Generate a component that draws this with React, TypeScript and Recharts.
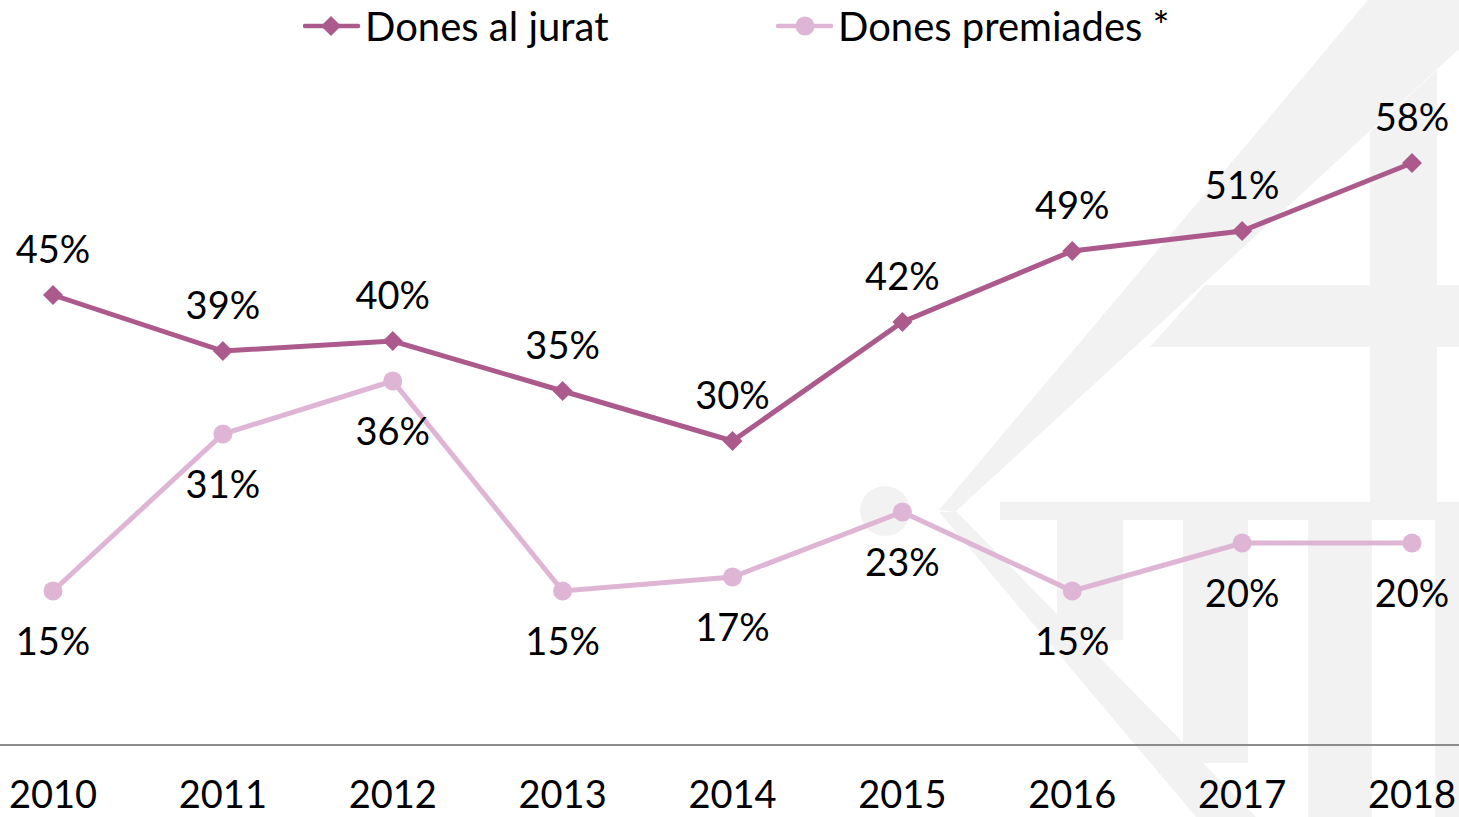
import React from 'react';
import { LineChart, Line, XAxis, YAxis, Legend, LabelList } from 'recharts';

const years = ['2010', '2011', '2012', '2013', '2014', '2015', '2016', '2017', '2018'];
const donesJurat = [45.0, 39.4, 40.4, 35.4, 30.4, 42.3, 49.4, 51.4, 58.2];
const donesPremiades = [15.4, 31.1, 36.4, 15.4, 16.8, 23.3, 15.4, 20.2, 20.2];

const seriesNames = ['Dones al jurat', 'Dones premiades *'];
const C1 = '#AC5A8C';
const C2 = '#DFB5D5';
const WM = '#F2F2F2';
const FONT = 'Lato, "Open Sans", sans-serif';
const FS = 38;

const data = years.map((y, i) => ({ year: y, jurat: donesJurat[i], premiades: donesPremiades[i] }));

const fmt = (v: number) => `${Math.round(v)}%`;

const Diamond = (props: any) => {
  const { cx, cy } = props;
  if (cx == null || cy == null) return null;
  const s = 10;
  return <polygon key={`d-${cx}`} points={`${cx},${cy - s} ${cx + s},${cy} ${cx},${cy + s} ${cx - s},${cy}`} fill={C1} />;
};

const Circle = (props: any) => {
  const { cx, cy } = props;
  if (cx == null || cy == null) return null;
  return <circle key={`c-${cx}`} cx={cx} cy={cy} r={9.5} fill={C2} />;
};

const TopLabel = (props: any) => {
  const { x, y, value } = props;
  return (
    <text x={x} y={y - 47} textAnchor="middle" dominantBaseline="central" fill="#000" fontSize={FS} fontFamily={FONT}>
      {fmt(value)}
    </text>
  );
};

const BottomLabel = (props: any) => {
  const { x, y, value } = props;
  return (
    <text x={x} y={y + 49} textAnchor="middle" dominantBaseline="central" fill="#000" fontSize={FS} fontFamily={FONT}>
      {fmt(value)}
    </text>
  );
};

const LegendContent = () => (
  <div style={{ position: 'relative', height: 45, width: 1459, fontFamily: FONT, fontSize: 40, color: '#000' }}>
    <svg width={60} height={24} style={{ position: 'absolute', left: 303, top: 14 }}>
      <line x1={2} y1={12} x2={55} y2={12} stroke={C1} strokeWidth={4.5} strokeLinecap="round" />
      <polygon points="28,2 38,12 28,22 18,12" fill={C1} />
    </svg>
    <span style={{ position: 'absolute', left: 365, top: 0, lineHeight: '52px', whiteSpace: 'nowrap' }}>{seriesNames[0]}</span>
    <svg width={60} height={24} style={{ position: 'absolute', left: 776, top: 14 }}>
      <line x1={2} y1={12} x2={55} y2={12} stroke={C2} strokeWidth={4.5} strokeLinecap="round" />
      <circle cx={29} cy={12} r={9.5} fill={C2} />
    </svg>
    <span style={{ position: 'absolute', left: 838, top: 0, lineHeight: '52px', whiteSpace: 'nowrap' }}>{seriesNames[1]}</span>
  </div>
);

const Watermark = () => (
  <svg width={1459} height={817} style={{ position: 'absolute', left: 0, top: 0 }}>
    <circle cx={885} cy={511} r={25} fill={WM} />
    <polygon points="939,510 1368,0 1459,0 1459,49 955,512" fill={WM} />
    <polygon points="939,512 957,512 1256,817 1196,817" fill={WM} />
    <polygon points="1205,285 1459,285 1459,347 1150,347" fill={WM} />
    <polygon points="1370,132 1437,70 1437,502 1370,502" fill={WM} />
    <rect x={1000} y={502} width={459} height={18} fill={WM} />
    <rect x={1057} y={520} width={66} height={120} fill={WM} />
    <rect x={1183} y={520} width={65} height={243} fill={WM} />
    <rect x={1308} y={520} width={64} height={297} fill={WM} />
    <rect x={1435} y={520} width={24} height={297} fill={WM} />
  </svg>
);

export default function App() {
  return (
    <div style={{ position: 'absolute', left: 0, top: 0, width: 1459, height: 817, background: '#fff', overflow: 'hidden' }}>
      <Watermark />
      <div style={{ position: 'absolute', left: 0, top: 0 }}>
        <LineChart width={1459} height={817} data={data} margin={{ top: 0, right: 0, bottom: 0, left: 0 }}>
          <XAxis
            dataKey="year"
            axisLine={{ stroke: '#8C8C8C', strokeWidth: 2 }}
            tickLine={false}
            tickMargin={30}
            height={72}
            padding={{ left: 53, right: 47 }}
            tick={{ fill: '#000', fontSize: FS, fontFamily: FONT }}
            interval={0}
          />
          <YAxis hide domain={[0, 70]} />
          <Legend verticalAlign="top" wrapperStyle={{ top: 0, left: 0, width: 1459 }} content={<LegendContent />} />
          <Line
            type="linear"
            dataKey="jurat"
            name={seriesNames[0]}
            stroke={C1}
            strokeWidth={5}
            dot={<Diamond />}
            activeDot={false}
            isAnimationActive={false}
          >
            <LabelList dataKey="jurat" content={<TopLabel />} />
          </Line>
          <Line
            type="linear"
            dataKey="premiades"
            name={seriesNames[1]}
            stroke={C2}
            strokeWidth={5}
            dot={<Circle />}
            activeDot={false}
            isAnimationActive={false}
          >
            <LabelList dataKey="premiades" content={<BottomLabel />} />
          </Line>
        </LineChart>
      </div>
    </div>
  );
}
